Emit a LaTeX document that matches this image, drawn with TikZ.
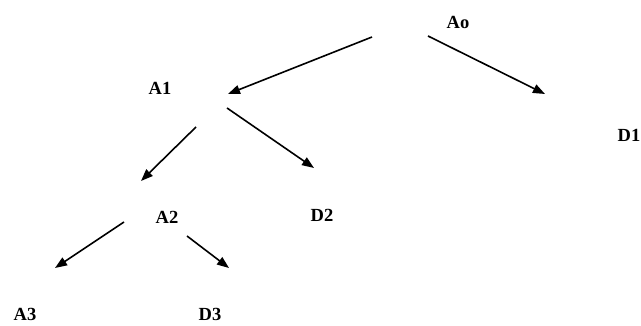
\documentclass[tikz,border=0pt]{standalone}
\usepackage{fontspec}
\setmainfont{Liberation Serif}
\usetikzlibrary{arrows.meta}
\begin{document}
\begin{tikzpicture}[x=1pt,y=1pt,
  lbl/.style={inner sep=0pt,font=\fontsize{18.5}{18.5}\selectfont\bfseries},
  arr/.style={line width=1.6pt,-{Triangle[length=12pt,width=9pt]}}]
\useasboundingbox (0,0) rectangle (641,326);
% labels (y = 326 - pixel y)
\node[lbl] (a0) at (458,304) {Ao};
\node[lbl] (a1) at (160,238) {A1};
\node[lbl] (d1) at (629,191) {D1};
\node[lbl] (a2) at (167,109) {A2};
\node[lbl] (d2) at (322,111) {D2};
\node[lbl] (a3) at (25,12) {A3};
\node[lbl] (d3) at (210,12) {D3};
% arrow end points
\coordinate (a0l) at (372,289);
\coordinate (a1t) at (228,232);
\coordinate (a0r) at (428,290);
\coordinate (d1t) at (545,232);
\coordinate (a1r) at (227,218);
\coordinate (d2t) at (314,158);
\coordinate (a1l) at (196,199);
\coordinate (a2t) at (141,145);
\coordinate (a2l) at (124,104);
\coordinate (a3t) at (55,58);
\coordinate (a2r) at (187,90);
\coordinate (d3t) at (229,58);
\draw[arr] (a0l) -- (a1t);
\draw[arr] (a0r) -- (d1t);
\draw[arr] (a1r) -- (d2t);
\draw[arr] (a1l) -- (a2t);
\draw[arr] (a2l) -- (a3t);
\draw[arr] (a2r) -- (d3t);
\end{tikzpicture}
\end{document}
